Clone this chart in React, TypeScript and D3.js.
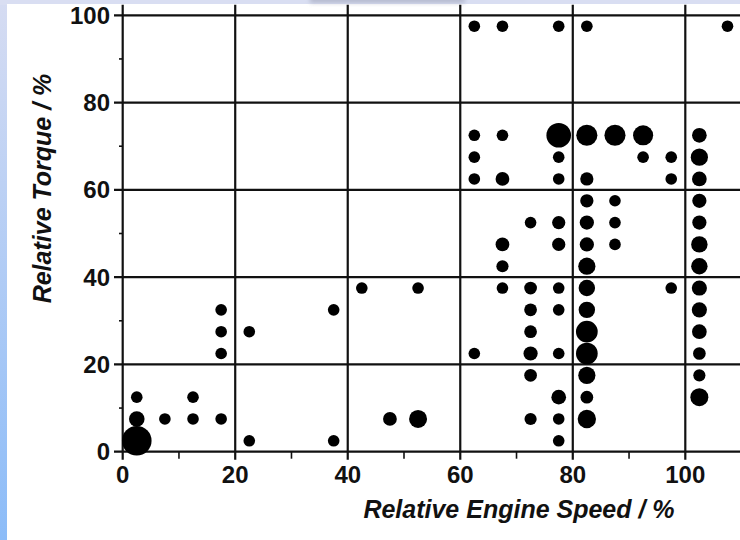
import * as d3 from "d3";

// relative engine speed (%) / relative torque (%) / time share (weight for dot size)
const speed = [
  2.5, 2.5, 2.5, 7.5, 12.5, 12.5, 17.5, 17.5, 17.5, 17.5, 22.5, 22.5, 37.5, 37.5, 42.5,
  47.5, 52.5, 52.5,
  62.5, 62.5, 62.5, 62.5, 62.5,
  67.5, 67.5, 67.5, 67.5, 67.5, 67.5,
  72.5, 72.5, 72.5, 72.5, 72.5, 72.5, 72.5,
  77.5, 77.5, 77.5, 77.5, 77.5, 77.5, 77.5, 77.5, 77.5, 77.5, 77.5, 77.5,
  82.5, 82.5, 82.5, 82.5, 82.5, 82.5, 82.5, 82.5, 82.5, 82.5, 82.5, 82.5, 82.5, 82.5,
  87.5, 87.5, 87.5, 87.5,
  92.5, 92.5,
  97.5, 97.5, 97.5,
  102.5, 102.5, 102.5, 102.5, 102.5, 102.5, 102.5, 102.5, 102.5, 102.5, 102.5, 102.5, 102.5,
  107.5,
];
const torque = [
  2.5, 7.5, 12.5, 7.5, 7.5, 12.5, 7.5, 22.5, 27.5, 32.5, 2.5, 27.5, 2.5, 32.5, 37.5,
  7.5, 7.5, 37.5,
  22.5, 62.5, 67.5, 72.5, 97.5,
  37.5, 42.5, 47.5, 62.5, 72.5, 97.5,
  7.5, 17.5, 22.5, 27.5, 32.5, 37.5, 52.5,
  2.5, 7.5, 12.5, 22.5, 32.5, 37.5, 47.5, 52.5, 62.5, 67.5, 72.5, 97.5,
  7.5, 12.5, 17.5, 22.5, 27.5, 32.5, 37.5, 42.5, 47.5, 52.5, 57.5, 62.5, 72.5, 97.5,
  47.5, 52.5, 57.5, 72.5,
  67.5, 72.5,
  37.5, 62.5, 67.5,
  12.5, 17.5, 22.5, 27.5, 32.5, 37.5, 42.5, 47.5, 52.5, 57.5, 62.5, 67.5, 72.5,
  97.5,
];
const share = [
  6.5, 1.8, 1, 1, 1, 1, 1, 1, 1, 1, 1, 1, 1, 1, 1,
  1.4, 2.4, 1,
  1, 1, 1, 1, 1,
  1, 1.1, 1.4, 1.4, 1, 1,
  1.1, 1.2, 1.5, 1.2, 1.2, 1.2, 1,
  1, 1, 1.6, 1, 1, 1, 1.3, 1.3, 1, 1, 4.5, 1,
  2.5, 1.2, 2.2, 3.5, 3.5, 2, 2, 2.2, 1.5, 1.5, 1.3, 1.3, 3.3, 1,
  1, 1, 1, 3.3,
  1, 3,
  1, 1, 1,
  2.4, 1.1, 1.2, 1.6, 1.7, 1.7, 2, 2, 1.5, 1.5, 1.6, 2.2, 1.6,
  1,
];

const majorTicks = [0, 20, 40, 60, 80, 100];
const minorTicks = [10, 30, 50, 70, 90];

const W = 740;
const H = 540;

export default function App() {
  const x = d3.scaleLinear().domain([0, 100]).range([122.7, 685.3]);
  const y = d3.scaleLinear().domain([0, 100]).range([451.7, 15.3]);
  const r = d3.scaleSqrt().domain([0, 6.5]).range([0, 14.8]);

  const points = d3.range(speed.length).map((i) => ({
    sx: speed[i],
    ty: torque[i],
    w: share[i],
  }));

  const font = "'Liberation Sans', Arial, sans-serif";
  const ink = "#111";
  const top = y(102.4);
  const right = x(110.5);

  return (
    <svg
      width={W}
      height={H}
      style={{ position: "absolute", left: 0, top: 0 }}
      fontFamily={font}
    >
      <defs>
        <linearGradient id="side" x1="0" y1="0" x2="0" y2="1">
          <stop offset="0" stopColor="#d6dcf2" />
          <stop offset="1" stopColor="#8cbcf8" />
        </linearGradient>
        <filter id="soft" x="-20%" y="-200%" width="140%" height="500%">
          <feGaussianBlur stdDeviation="2" />
        </filter>
      </defs>

      {/* frame */}
      <rect x={0} y={0} width={W} height={H} fill="url(#side)" />
      <rect x={0} y={0} width={W} height={5} fill="#d9def2" />
      <rect x={7} y={4} width={W - 7} height={H - 4} fill="#fff" />
      <rect x={310} y={-4} width={155} height={7} fill="#9ea3b8" opacity={0.6} filter="url(#soft)" />

      {/* horizontal grid + y ticks */}
      {majorTicks.map((t) => (
        <line key={"h" + t} x1={114} x2={right} y1={y(t)} y2={y(t)} stroke={ink} strokeWidth={2.2} />
      ))}
      {minorTicks.map((t) => (
        <line key={"ym" + t} x1={119} x2={x(0)} y1={y(t)} y2={y(t)} stroke={ink} strokeWidth={1.6} />
      ))}

      {/* vertical grid + x ticks */}
      {majorTicks.map((t) => (
        <line key={"v" + t} x1={x(t)} x2={x(t)} y1={top} y2={y(0) + 8} stroke={ink} strokeWidth={2.2} />
      ))}
      {minorTicks.map((t) => (
        <line key={"xm" + t} x1={x(t)} x2={x(t)} y1={y(0)} y2={y(0) + 7} stroke={ink} strokeWidth={1.6} />
      ))}

      {/* dots */}
      {points.map((p, i) => (
        <circle key={i} cx={x(p.sx)} cy={y(p.ty)} r={r(p.w)} fill="#000" />
      ))}

      {/* tick labels */}
      {majorTicks.map((t) => (
        <text
          key={"yl" + t}
          x={110}
          y={y(t) + 8.5}
          textAnchor="end"
          fontSize={24}
          fontWeight="bold"
          fill={ink}
        >
          {t}
        </text>
      ))}
      {majorTicks.map((t) => (
        <text
          key={"xl" + t}
          x={x(t)}
          y={483}
          textAnchor="middle"
          fontSize={24}
          fontWeight="bold"
          fill={ink}
        >
          {t}
        </text>
      ))}

      {/* axis titles */}
      <text
        x={519}
        y={518}
        textAnchor="middle"
        fontSize={25}
        fontWeight="bold"
        fontStyle="italic"
        fill={ink}
      >
        Relative Engine Speed / %
      </text>
      <text
        transform="translate(51,188.5) rotate(-90)"
        textAnchor="middle"
        fontSize={25}
        fontWeight="bold"
        fontStyle="italic"
        fill={ink}
      >
        Relative Torque / %
      </text>
    </svg>
  );
}
